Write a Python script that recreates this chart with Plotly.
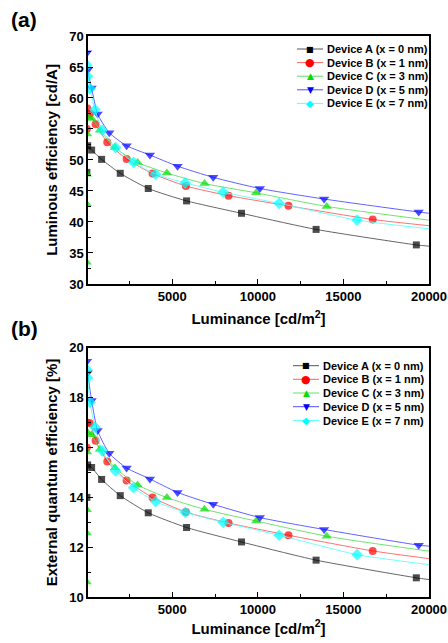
import plotly.graph_objects as go

# ---- data: luminance [cd/m2] and luminous efficiency [cd/A] (panel a) ----
A_lum = [15, 60, 292, 875, 1965, 3600, 5837, 9047, 13405, 19260, 20000]
A_le = [48.0, 52.3, 51.6, 50.1, 47.85, 45.4, 43.4, 41.4, 38.8, 36.3, 36.1]
B_lum = [10, 40, 195, 525, 1206, 2335, 3852, 5798, 8288, 11790, 16712, 20000]
B_le = [55.0, 58.3, 57.5, 55.75, 52.85, 50.16, 47.8, 45.8, 44.25, 42.6, 40.4, 39.4]
C_lum = [2, 6, 12, 25, 60, 292, 778, 1654, 2977, 4689, 6887, 9903, 14027, 20000]
C_le = [33.5, 42.9, 47.7, 54.2, 56.9, 56.7, 54.8, 52.0, 49.6, 47.9, 46.2, 44.7, 42.5, 40.3]
D_lum = [20, 60, 292, 642, 1323, 2335, 3697, 5311, 7393, 10117, 13872, 19397, 20000]
D_le = [67.3, 64.5, 61.6, 57.4, 54.4, 52.3, 50.8, 49.0, 47.2, 45.4, 43.7, 41.6, 41.4]
E_lum = [15, 50, 200, 486, 914, 1693, 2743, 4028, 5759, 7977, 11245, 15798, 20000]
E_le = [65.3, 63.5, 61.5, 58.1, 54.8, 52.0, 49.6, 47.7, 46.3, 44.8, 43.0, 40.3, 38.9]

# ---- external quantum efficiency [%] (panel b) ----
A_eqe = [14.0, 15.3, 15.2, 14.72, 14.07, 13.38, 12.79, 12.21, 11.48, 10.77, 10.7]
B_eqe = [16.0, 17.0, 16.98, 16.27, 15.44, 14.68, 13.99, 13.41, 12.97, 12.48, 11.85, 11.54]
C_eqe = [10.6, 12.57, 13.5, 15.82, 16.6, 16.51, 15.93, 15.19, 14.50, 13.99, 13.52, 13.05, 12.44, 11.84]
D_eqe = [19.46, 19.0, 17.89, 16.68, 15.77, 15.18, 14.74, 14.20, 13.72, 13.19, 12.71, 12.08, 12.04]
E_eqe = [19.13, 18.8, 17.81, 16.82, 15.87, 15.06, 14.39, 13.83, 13.40, 13.0, 12.48, 11.70, 11.3]

names = ["Device A (x = 0 nm)", "Device B (x = 1 nm)", "Device C (x = 3 nm)",
         "Device D (x = 5 nm)", "Device E (x = 7 nm)"]
colors = ["#000000", "#ff0000", "#00dd00", "#0000ff", "#00ffff"]
line_colors = ["#555555", "#ff6060", "#60e060", "#5050ff", "#60ffff"]
symbols = ["square", "circle", "triangle-up", "triangle-down", "diamond"]
glyphs = ["\u25A0", "\u25CF", "\u25B2", "\u25BC", "\u25C6"]
glyph_sizes = [8, 11, 9, 9, 10]
msizes = [7, 8, 9, 9, 9]
lums = [A_lum, B_lum, C_lum, D_lum, E_lum]
les = [A_le, B_le, C_le, D_le, E_le]
eqes = [A_eqe, B_eqe, C_eqe, D_eqe, E_eqe]
x_ticks = [5000, 10000, 15000, 20000]
x_ticktext = ["5000", "10000", "15000", "20000"]

FONT = "Arial, Liberation Sans, sans-serif"
W, H = 448, 643
ML, MR, MT, MB = 88, 19, 36, 46
PW, PH = W - ML - MR, H - MT - MB


def px_x(px):  # page pixel -> paper coordinate
    return (px - ML) / PW


def px_y(py):
    return 1 - (py - MT) / PH


fig = go.Figure()
for i in range(5):
    n = len(lums[i])
    sizes = [msizes[i]] * (n - 1) + [0]  # last point is the curve end only
    for xs, ys, xa, ya in ((lums[i], les[i], "x", "y"), (lums[i], eqes[i], "x2", "y2")):
        fig.add_trace(go.Scatter(
            x=xs, y=ys, name=names[i], mode="lines+markers", showlegend=False,
            line=dict(color=line_colors[i], width=0.9, shape="spline", smoothing=0.6),
            marker=dict(symbol=symbols[i], color=colors[i], size=sizes, line=dict(width=0)),
            xaxis=xa, yaxis=ya))

axis_common = dict(
    showline=True, linecolor="black", linewidth=1.5, mirror=True,
    ticks="inside", ticklen=5, tickwidth=1, tickcolor="black",
    showgrid=False, zeroline=False, automargin=False,
    tickfont=dict(family=FONT, size=13, color="black", weight="bold"),
)
title_font = dict(family=FONT, size=15, color="black", weight="bold")

fig.update_layout(
    width=W, height=H,
    paper_bgcolor="white", plot_bgcolor="white",
    margin=dict(l=ML, r=MR, t=MT, b=MB, autoexpand=False),
    showlegend=False,
    xaxis=dict(domain=[0, 1], anchor="y", range=[80, 20000],
               tickvals=x_ticks, ticktext=x_ticktext,
               minor=dict(ticks="inside", ticklen=3, tickcolor="black", dtick=2500, tick0=0),
               title=dict(text="Luminance [cd/m<sup>2</sup>]", standoff=10, font=title_font),
               **axis_common),
    yaxis=dict(domain=[0.558, 1], anchor="x", range=[30, 70], dtick=5,
               minor=dict(ticks="inside", ticklen=3, tickcolor="black", dtick=2.5),
               title=dict(text="Luminous efficiency [cd/A]", standoff=8, font=title_font),
               **axis_common),
    xaxis2=dict(domain=[0, 1], anchor="y2", range=[80, 20000],
                tickvals=x_ticks, ticktext=x_ticktext,
                minor=dict(ticks="inside", ticklen=3, tickcolor="black", dtick=2500, tick0=0),
                title=dict(text="Luminance [cd/m<sup>2</sup>]", standoff=6, font=title_font),
                **axis_common),
    yaxis2=dict(domain=[0, 0.444], anchor="x2", range=[10, 20], dtick=2,
                minor=dict(ticks="inside", ticklen=3, tickcolor="black", dtick=1),
                title=dict(text="External quantum efficiency [%]", standoff=8, font=title_font),
                **axis_common),
)

# panel labels
for label, cy in (("(a)", 20), ("(b)", 328)):
    fig.add_annotation(text=label, showarrow=False, xref="paper", yref="paper",
                       x=px_x(9), y=px_y(cy), xanchor="left", yanchor="middle",
                       font=dict(family=FONT, size=21, color="black", weight="bold"))

# compact legends (drawn as shapes + text, matching the reference spacing)
legend_specs = [
    dict(rows=[49, 62.6, 76.2, 89.8, 103.4], x0=297, x1=323, tx=325),
    dict(rows=[365.7, 379.3, 393, 406.7, 420.5], x0=293, x1=319, tx=321),
]
for spec in legend_specs:
    for i, ry in enumerate(spec["rows"]):
        fig.add_shape(type="line", xref="paper", yref="paper",
                      x0=px_x(spec["x0"]), x1=px_x(spec["x1"]),
                      y0=px_y(ry), y1=px_y(ry),
                      line=dict(color=line_colors[i], width=1))
        fig.add_annotation(text=glyphs[i], showarrow=False, xref="paper", yref="paper",
                           x=px_x((spec["x0"] + spec["x1"]) / 2), y=px_y(ry),
                           xanchor="center", yanchor="middle",
                           font=dict(family="DejaVu Sans", size=glyph_sizes[i], color=colors[i]))
        fig.add_annotation(text=names[i], showarrow=False, xref="paper", yref="paper",
                           x=px_x(spec["tx"]), y=px_y(ry),
                           xanchor="left", yanchor="middle",
                           font=dict(family=FONT, size=11, color="black", weight="bold"))

fig.write_html("out.html",
               config={"displayModeBar": False},
               post_script="document.body.style.margin='0';"
                           "document.body.style.overflow='hidden';")
